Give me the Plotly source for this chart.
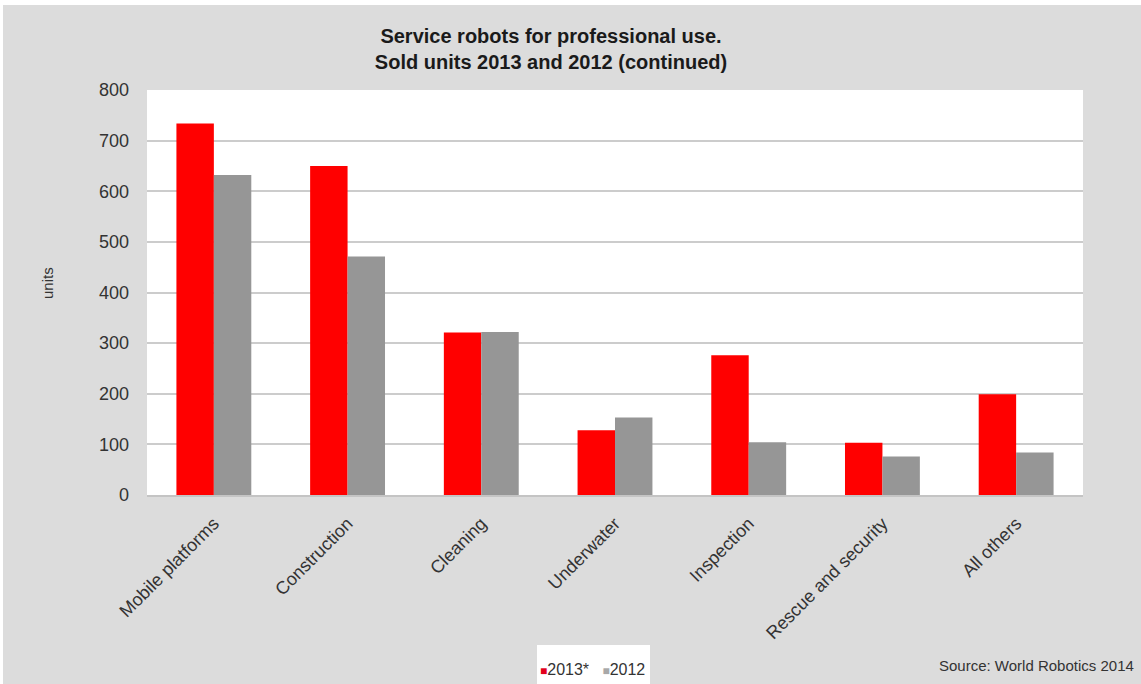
import plotly.graph_objects as go

categories = ["Mobile platforms", "Construction", "Cleaning", "Underwater",
              "Inspection", "Rescue and security", "All others"]
sold_2013 = [734, 650, 321, 128, 276, 103, 199]
sold_2012 = [632, 471, 322, 153, 104, 76, 84]
y_ticks = [0, 100, 200, 300, 400, 500, 600, 700, 800]
series_names = ["2013*", "2012"]
series_colors = ["#ff0000", "#969696"]

W, H = 1141, 684
L, R, T, B = 147, 58, 90, 189
pw, ph = W - L - R, H - T - B


def px(x):
    return (x - L) / pw


def py(y):
    return (ph - (y - T)) / ph


fig = go.Figure()
for name, vals, col in zip(series_names, [sold_2013, sold_2012], series_colors):
    fig.add_trace(go.Bar(name=name, x=categories, y=vals,
                         marker=dict(color=col, line=dict(width=0))))

font_fam = "Arial, Liberation Sans, sans-serif"

legend_text = (f"<span style='color:#e3001b;font-size:12px'>■</span>{series_names[0]}&nbsp;&nbsp;&nbsp;"
               f"<span style='color:#a8a8a8;font-size:12px'>■</span>{series_names[1]}")

fig.update_layout(
    width=W, height=H,
    margin=dict(l=L, r=R, t=T, b=B, autoexpand=False),
    paper_bgcolor="#dcdcdc",
    plot_bgcolor="#ffffff",
    barmode="group", bargap=0.44, bargroupgap=0,
    font=dict(family=font_fam, color="#333333", size=14),
    title=dict(text="<b>Service robots for professional use.<br>Sold units 2013 and 2012 (continued)</b>",
               x=551 / W, xanchor="center", y=1 - 43 / H, yanchor="middle",
               font=dict(size=20, color="#1a1a1a", family=font_fam)),
    showlegend=False,
    shapes=[
        dict(type="rect", xref="paper", yref="paper", layer="below",
             x0=px(0), x1=px(W), y0=py(5), y1=py(0),
             fillcolor="#ffffff", line=dict(width=0)),
        dict(type="rect", xref="paper", yref="paper", layer="below",
             x0=px(0), x1=px(3), y0=py(H), y1=py(0),
             fillcolor="#ffffff", line=dict(width=0)),
        dict(type="rect", xref="paper", yref="paper", layer="below",
             x0=px(537), x1=px(650), y0=py(H), y1=py(645),
             fillcolor="#ffffff", line=dict(width=0)),
    ],
    annotations=[
        dict(text="units", xref="paper", yref="paper", x=px(47), y=py(283),
             xanchor="center", yanchor="middle", textangle=-90, showarrow=False,
             font=dict(size=15, color="#333333")),
        dict(text="Source: World Robotics 2014", xref="paper", yref="paper",
             x=px(1136), y=py(665), xanchor="right", yanchor="middle",
             showarrow=False, font=dict(size=15, color="#333333")),
        dict(text=legend_text, xref="paper", yref="paper",
             x=px(592), y=py(669), xanchor="center", yanchor="middle",
             showarrow=False, font=dict(size=16, color="#333333")),
    ],
)
fig.update_xaxes(tickangle=-45, showgrid=False, showline=True, linecolor="#c4c4c4",
                 linewidth=2, ticks="", automargin=False, ticklabelstandoff=9,
                 tickfont=dict(size=18, color="#333333"))
fig.update_yaxes(range=[0, 800], tickvals=y_ticks, showgrid=True, gridcolor="#cccccc",
                 gridwidth=2, zeroline=False, showline=False, ticks="", automargin=False,
                 ticklabelstandoff=17, tickfont=dict(size=18, color="#333333"))

fig.write_html("out.html")
